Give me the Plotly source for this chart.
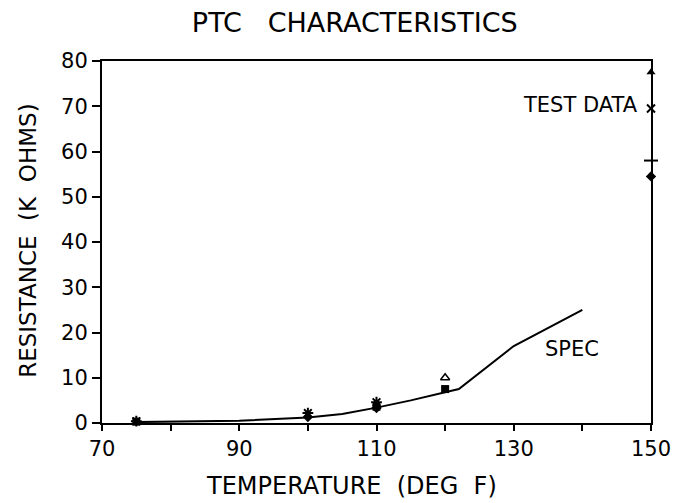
import plotly.graph_objects as go

spec_temp = [75, 80, 90, 100, 105, 110, 115, 120, 122, 130, 140]
spec_res = [0.2, 0.3, 0.5, 1.2, 2.0, 3.4, 5.0, 6.8, 7.5, 17.0, 25.0]

sq_temp = [75, 110, 120]
sq_res = [0.3, 3.6, 7.5]
star_temp = [75, 100, 110]
star_res = [0.4, 2.2, 4.6]
dia_temp = [100, 110, 150]
dia_res = [1.3, 3.3, 54.5]
tri_open_temp = [120]
tri_open_res = [10.0]
tri_fill_temp = [150]
tri_fill_res = [77.5]
x_temp = [150]
x_res = [69.5]
dash_temp = [150]
dash_res = [58.0]

x_ticks = [70, 80, 90, 100, 110, 120, 130, 140, 150]
x_tick_labels = ["70", "", "90", "", "110", "", "130", "", "150"]
y_ticks = [0, 10, 20, 30, 40, 50, 60, 70, 80]

FONT = "DejaVu Sans"
NB = "\u00a0"
fig = go.Figure()
fig.add_trace(go.Scatter(x=spec_temp, y=spec_res, mode="lines",
                         line=dict(color="black", width=2), showlegend=False))
mk = dict(color="black", size=8)
fig.add_trace(go.Scatter(x=sq_temp, y=sq_res, mode="markers", cliponaxis=False,
                         marker=dict(symbol="square", **mk), showlegend=False))
fig.add_trace(go.Scatter(x=star_temp, y=star_res, mode="markers", cliponaxis=False,
                         marker=dict(symbol="asterisk-open", color="black", size=9,
                                     line=dict(color="black", width=2)), showlegend=False))
fig.add_trace(go.Scatter(x=dia_temp, y=dia_res, mode="markers", cliponaxis=False,
                         marker=dict(symbol="diamond", **mk), showlegend=False))
fig.add_trace(go.Scatter(x=tri_open_temp, y=tri_open_res, mode="markers", cliponaxis=False,
                         marker=dict(symbol="triangle-up-open", color="black", size=8,
                                     line=dict(color="black", width=1.5)), showlegend=False))
fig.add_trace(go.Scatter(x=tri_fill_temp, y=tri_fill_res, mode="markers", cliponaxis=False,
                         marker=dict(symbol="triangle-up", **mk), showlegend=False))
fig.add_trace(go.Scatter(x=x_temp, y=x_res, mode="markers", cliponaxis=False,
                         marker=dict(symbol="x-thin-open", color="black", size=8,
                                     line=dict(color="black", width=2)), showlegend=False))
fig.add_trace(go.Scatter(x=dash_temp, y=dash_res, mode="markers", cliponaxis=False,
                         marker=dict(symbol="line-ew-open", color="black", size=10,
                                     line=dict(color="black", width=2)), showlegend=False))

fig.add_annotation(x=148.4, y=70.3, text="TEST DATA", showarrow=False, xanchor="right",
                   font=dict(family=FONT, size=21, color="black"))
fig.add_annotation(x=138.5, y=16.3, text="SPEC", showarrow=False, xanchor="center",
                   font=dict(family=FONT, size=21, color="black"))
fig.add_annotation(xref="paper", yref="paper", x=0.455, y=-0.174,
                   text="TEMPERATURE" + NB * 2 + "(DEG" + NB * 2 + "F)",
                   showarrow=False, xanchor="center", yanchor="middle",
                   font=dict(family=FONT, size=24, color="black"))
fig.add_annotation(xref="paper", yref="paper", x=-0.135, y=0.503,
                   text="RESISTANCE" + NB * 2 + "(K" + NB * 2 + "OHMS)", textangle=-90,
                   showarrow=False, xanchor="center", yanchor="middle",
                   font=dict(family=FONT, size=23, color="black"))

fig.update_layout(
    width=688, height=503,
    margin=dict(l=94, r=45, t=53, b=88),
    paper_bgcolor="white", plot_bgcolor="white",
    title=dict(text="PTC" + NB * 3 + "CHARACTERISTICS", x=0.504, xanchor="center",
               y=0.972, yanchor="middle",
               font=dict(family=FONT, size=27, color="black")),
    font=dict(family=FONT, color="black"),
)
fig.update_xaxes(range=[70, 150], tickvals=x_ticks, ticktext=x_tick_labels,
                 ticks="outside", ticklen=6, tickwidth=1.5, tickcolor="black",
                 showline=True, linecolor="black", linewidth=2, mirror=True,
                 showgrid=False, zeroline=False, automargin=False,
                 tickfont=dict(family=FONT, size=21, color="black"))
fig.update_yaxes(range=[0, 80], tickvals=y_ticks,
                 ticks="outside", ticklen=8, tickwidth=1.5, tickcolor="black",
                 showline=True, linecolor="black", linewidth=2, mirror=True,
                 showgrid=False, zeroline=False, automargin=False,
                 tickfont=dict(family=FONT, size=21, color="black"))

fig.write_html("out.html")
